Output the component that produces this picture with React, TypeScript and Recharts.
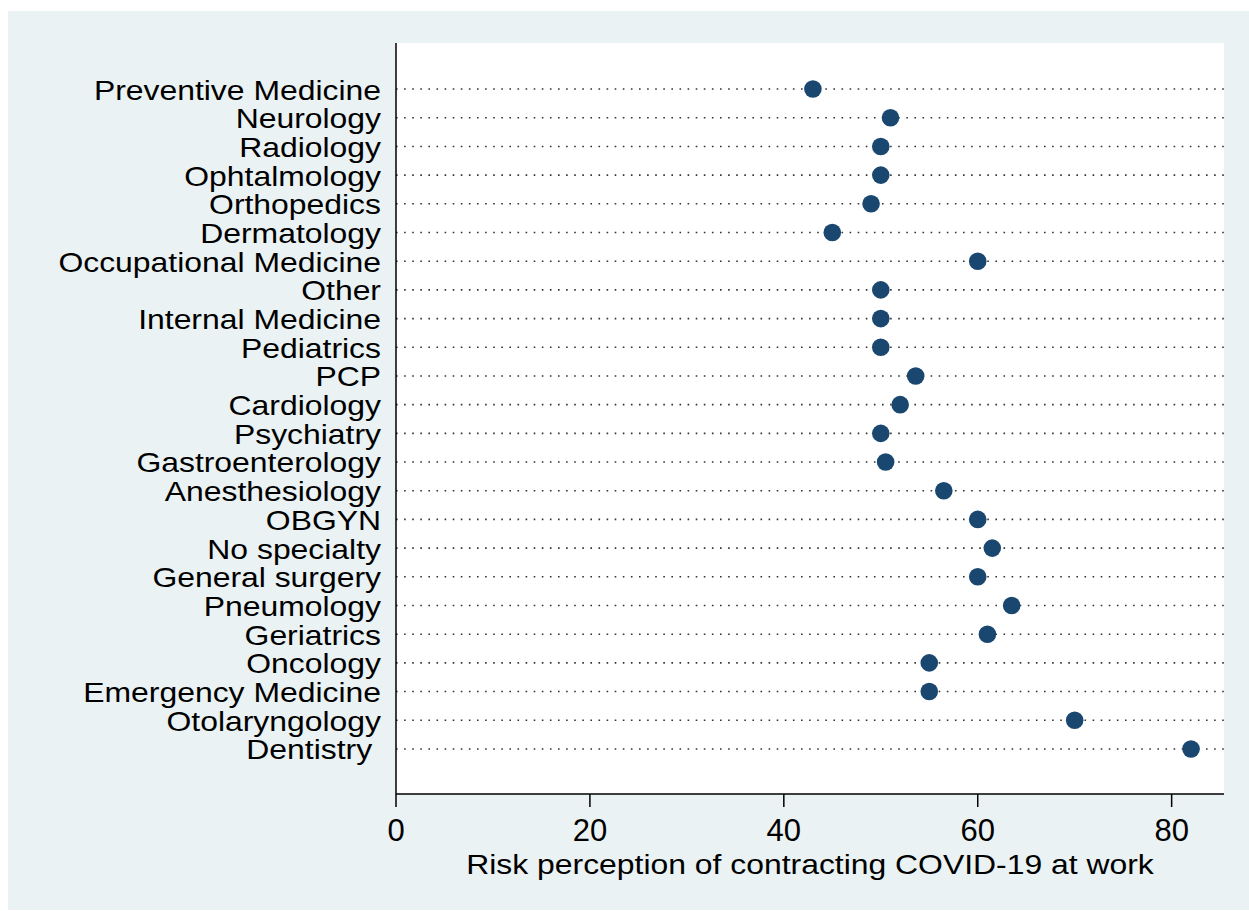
import { ScatterChart, Scatter, XAxis, YAxis, ReferenceLine, CartesianGrid, Label } from 'recharts';

const specialties = [
  'Preventive Medicine',
  'Neurology',
  'Radiology',
  'Ophtalmology',
  'Orthopedics',
  'Dermatology',
  'Occupational Medicine',
  'Other',
  'Internal Medicine',
  'Pediatrics',
  'PCP',
  'Cardiology',
  'Psychiatry',
  'Gastroenterology',
  'Anesthesiology',
  'OBGYN',
  'No specialty',
  'General surgery',
  'Pneumology',
  'Geriatrics',
  'Oncology',
  'Emergency Medicine',
  'Otolaryngology',
  'Dentistry\u00A0',
];

const riskScores = [43, 51, 50, 50, 49, 45, 60, 50, 50, 50, 53.6, 52, 50, 50.5, 56.5, 60, 61.5, 60, 63.5, 61, 55, 55, 70, 82];

const xTicks = [0, 20, 40, 60, 80];

const data = specialties.map((name, i) => ({ name, pos: i, risk: riskScores[i] }));
const rowTicks = specialties.map((_, i) => i);

const FONT = '"Liberation Sans", Arial, sans-serif';
const NAVY = '#1a476f';

const CategoryTick = (props: any) => {
  const { x, y, payload } = props;
  return (
    <text
      transform={`translate(${x},${y}) scale(1.16,1)`}
      textAnchor="end"
      dy="0.38em"
      fontSize={27.5}
      fontFamily={FONT}
      fill="#000"
    >
      {specialties[payload.value]}
    </text>
  );
};

const ValueTick = (props: any) => {
  const { x, y, payload } = props;
  return (
    <text x={x} y={y} dy={34} textAnchor="middle" fontSize={31} fontFamily={FONT} fill="#000">
      {payload.value}
    </text>
  );
};

const Dot = (props: any) => <circle cx={props.cx} cy={props.cy} r={8.8} fill={NAVY} />;

const AxisTitle = (props: any) => {
  const { viewBox } = props;
  const cx = viewBox.x + viewBox.width / 2;
  return (
    <text
      transform={`translate(${cx},${viewBox.y + 80}) scale(1.16,1)`}
      textAnchor="middle"
      fontSize={27.5}
      fontFamily={FONT}
      fill="#000"
    >
      Risk perception of contracting COVID-19 at work
    </text>
  );
};

export default function App() {
  return (
    <div style={{ position: 'absolute', left: 8, top: 11, width: 1241, height: 899, background: '#eaf2f3' }}>
      <ScatterChart width={1241} height={899} margin={{ top: 32, right: 25, bottom: 56, left: 0 }}>
        <CartesianGrid fill="#ffffff" horizontal={false} vertical={false} />
        <XAxis
          type="number"
          dataKey="risk"
          domain={[0, 85.4]}
          ticks={xTicks}
          allowDataOverflow
          height={60}
          tickSize={13}
          tickMargin={0}
          tick={<ValueTick />}
          axisLine={{ stroke: '#000', strokeWidth: 1.5 }}
          tickLine={{ stroke: '#000', strokeWidth: 1.5 }}
        >
          <Label content={<AxisTitle />} />
        </XAxis>
        <YAxis
          type="number"
          dataKey="pos"
          reversed
          domain={[-1.605, 24.57]}
          ticks={rowTicks}
          interval={0}
          allowDataOverflow
          width={388}
          tickSize={0}
          tickMargin={15}
          tick={<CategoryTick />}
          tickLine={false}
          axisLine={{ stroke: '#000', strokeWidth: 1.5 }}
        />
        {rowTicks.map((i) => (
          <ReferenceLine key={i} y={i} stroke="#333" strokeWidth={1.6} strokeDasharray="1.6 6.5" />
        ))}
        <Scatter data={data} shape={<Dot />} isAnimationActive={false} />
      </ScatterChart>
    </div>
  );
}
